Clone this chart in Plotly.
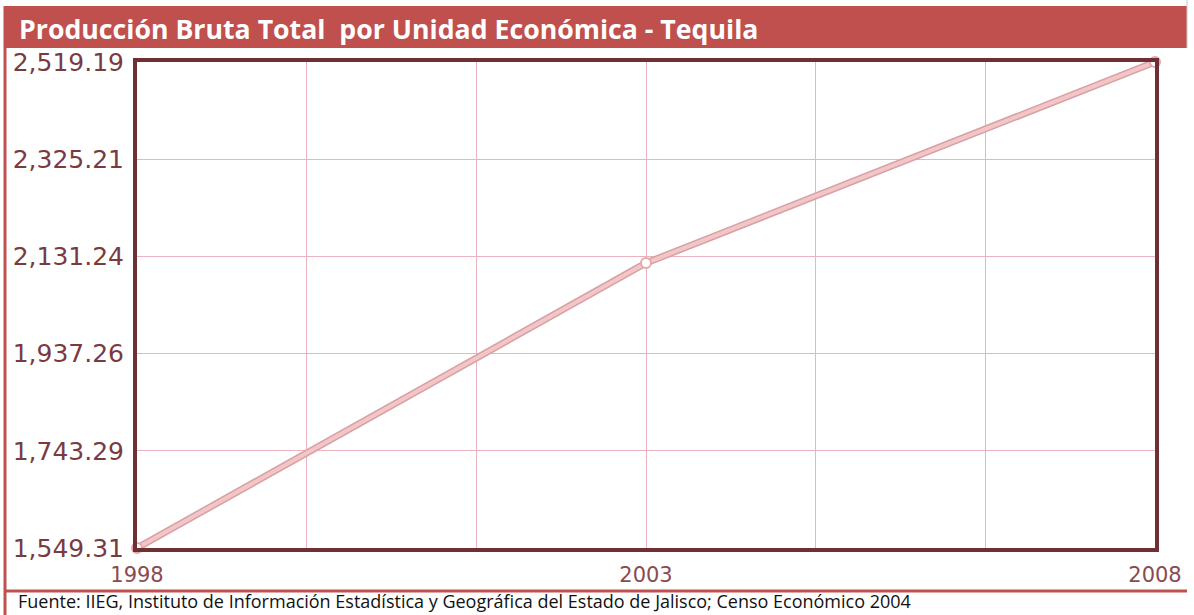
import plotly.graph_objects as go

years = [1998, 2003, 2008]
produccion = [1549.31, 2118.0, 2519.19]

y_ticks = [1549.31, 1743.29, 1937.26, 2131.24, 2325.21, 2519.19]
x_grid = [1998 + i * 10 / 6 for i in range(7)]
x_labels = ["1998", "", "", "2003", "", "", "2008"]

title = "Producción Bruta Total  por Unidad Económica - Tequila"
source = "Fuente: IIEG, Instituto de Información Estadística y Geográfica del Estado de Jalisco; Censo Económico 2004"

W, H = 1194, 615
L, R, T, B = 137, 1155, 62, 548


def px(x):
    return (x - L) / (R - L)


def py(y):
    return (B - y) / (B - T)


fig = go.Figure()
fig.add_trace(go.Scatter(
    x=years, y=produccion, mode="lines",
    line=dict(color="#d8a0a4", width=7), hoverinfo="skip", cliponaxis=False,
))
fig.add_trace(go.Scatter(
    x=years, y=produccion, mode="lines+markers",
    line=dict(color="#f2c6c6", width=4),
    marker=dict(size=10, color="white", line=dict(color="#e3a9ab", width=2)),
    cliponaxis=False,
))

red = "#c0504d"
shapes = [
    dict(type="rect", xref="paper", yref="paper", x0=px(4), x1=px(1187), y0=py(6), y1=py(48),
         fillcolor=red, line=dict(width=0), layer="below"),
    dict(type="line", xref="paper", yref="paper", x0=px(5), x1=px(5), y0=py(6), y1=py(615),
         line=dict(color=red, width=3)),
    dict(type="line", xref="paper", yref="paper", x0=px(4), x1=px(1187), y0=py(591), y1=py(591),
         line=dict(color=red, width=3)),
    dict(type="line", xref="paper", yref="paper", x0=px(1187), x1=px(1187), y0=py(0), y1=py(48),
         line=dict(color="#c8c8c8", width=1)),
]

annotations = [
    dict(text="<b>" + title + "</b>", xref="paper", yref="paper", x=px(17), y=py(29),
         xanchor="left", yanchor="middle", showarrow=False,
         font=dict(family="Open Sans", size=26.7, color="white")),
    dict(text=source, xref="paper", yref="paper", x=px(17), y=py(614),
         xanchor="left", yanchor="bottom", showarrow=False, borderpad=0,
         font=dict(family="Open Sans", size=18, color="#111111")),
]

fig.update_layout(
    width=W, height=H,
    margin=dict(l=L, r=W - R, t=T, b=H - B),
    paper_bgcolor="white", plot_bgcolor="white",
    showlegend=False,
    shapes=shapes, annotations=annotations,
    xaxis=dict(
        range=[1998, 2008], tickvals=x_grid, ticktext=x_labels,
        showgrid=True, gridcolor="#eab3bf", gridwidth=1,
        showline=True, mirror=True, linecolor="#6e3035", linewidth=4,
        ticks="", zeroline=False, ticklabelstandoff=5,
        tickfont=dict(family="DejaVu Sans", size=21, color="#8a4a50"),
    ),
    yaxis=dict(
        range=[1549.31, 2519.19], tickvals=y_ticks,
        ticktext=[f"{v:,.2f}" for v in y_ticks],
        showgrid=True, gridcolor="#eab3bf", gridwidth=1,
        showline=True, mirror=True, linecolor="#6e3035", linewidth=4,
        ticks="", zeroline=False, ticklabelstandoff=4,
        tickfont=dict(family="DejaVu Sans", size=25, color="#7a3a40"),
    ),
)

fig.write_html("out.html", config={"displayModeBar": False},
               post_script="document.body.style.margin='0';")
